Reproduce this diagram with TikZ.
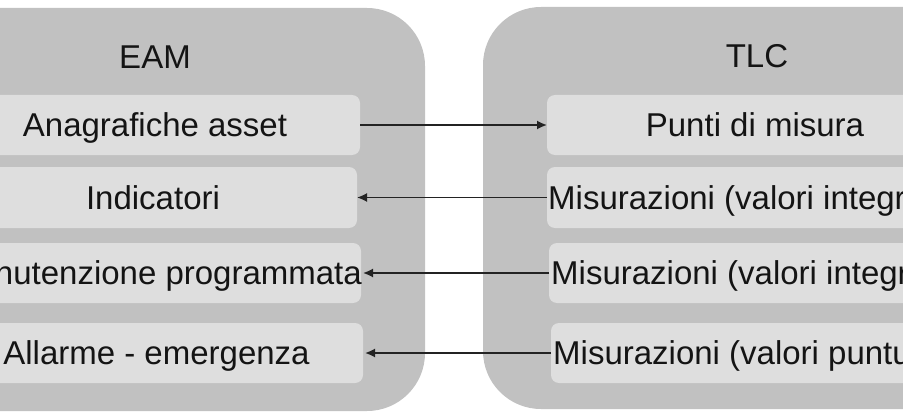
\documentclass[tikz,border=0pt]{standalone}
\usepackage{fontspec}
\setmainfont{Liberation Sans}
\usetikzlibrary{arrows.meta}
\definecolor{outergray}{RGB}{193,193,193}
\definecolor{innergray}{RGB}{222,222,222}
\definecolor{txtcol}{RGB}{20,20,20}
\definecolor{arrcol}{RGB}{35,35,35}
\tikzset{
  outerbox/.style={fill=outergray, draw=none, rounded corners=58pt},
  innerbox/.style={fill=innergray, draw=none, rounded corners=8pt, minimum height=60pt, inner sep=0pt, outer sep=0pt},
  lbl/.style={text=txtcol, font=\fontsize{33}{40}\selectfont, inner sep=0pt, text height=23.5pt, text depth=0pt},
  link/.style={draw=arrcol, line width=1.7pt, -{Latex[length=10pt,width=9pt]}}
}
\begin{document}
\begin{tikzpicture}[x=1pt,y=-1pt]
\useasboundingbox (0,0) rectangle (903,412);
\fill[white] (0,0) rectangle (903,412);
\clip (0,0) rectangle (903,412);
% outer containers
\path[outerbox] (-117,8) rectangle (425,411);
\path[outerbox] (483,7) rectangle (1030,409);
% titles
\node[lbl] (eam) at (155,57) {EAM};
\node[lbl] (tlc) at (757,56) {TLC};
% left inner boxes
\node[innerbox, minimum width=410pt, label={[lbl]center:Anagrafiche asset}] (a1) at (155,125) {};
\node[innerbox, minimum width=408pt, minimum height=61pt, label={[lbl]center:Indicatori}] (a2) at (153,197.5) {};
\node[innerbox, minimum width=411pt, label={[lbl]center:Manutenzione programmata}] (a3) at (155.5,273) {};
\node[innerbox, minimum width=413pt, label={[lbl]center:Allarme - emergenza}] (a4) at (156.5,353) {};
% right inner boxes
\node[innerbox, minimum width=416pt, label={[lbl]center:Punti di misura}] (b1) at (755,125) {};
\node[innerbox, minimum width=416pt, minimum height=61pt] (b2) at (755,197.5) {};
\node[innerbox, minimum width=414pt] (b3) at (756,273) {};
\node[innerbox, minimum width=412pt] (b4) at (757,353) {};
\node[lbl, anchor=west] (t2) at ([xshift=1pt]b2.west) {Misurazioni (valori integrati)};
\node[lbl, anchor=west] (t3) at ([xshift=2pt]b3.west) {Misurazioni (valori integrati)};
\node[lbl, anchor=west] (t4) at ([xshift=2pt]b4.west) {Misurazioni (valori puntuali)};
% connectors
\draw[link] (a1.east) -- (b1.west);
\draw[link] (b2.west) -- (a2.east);
\draw[link] (b3.west) -- ([xshift=2pt]a3.east);
\draw[link] (b4.west) -- ([xshift=2pt]a4.east);
\end{tikzpicture}
\end{document}
